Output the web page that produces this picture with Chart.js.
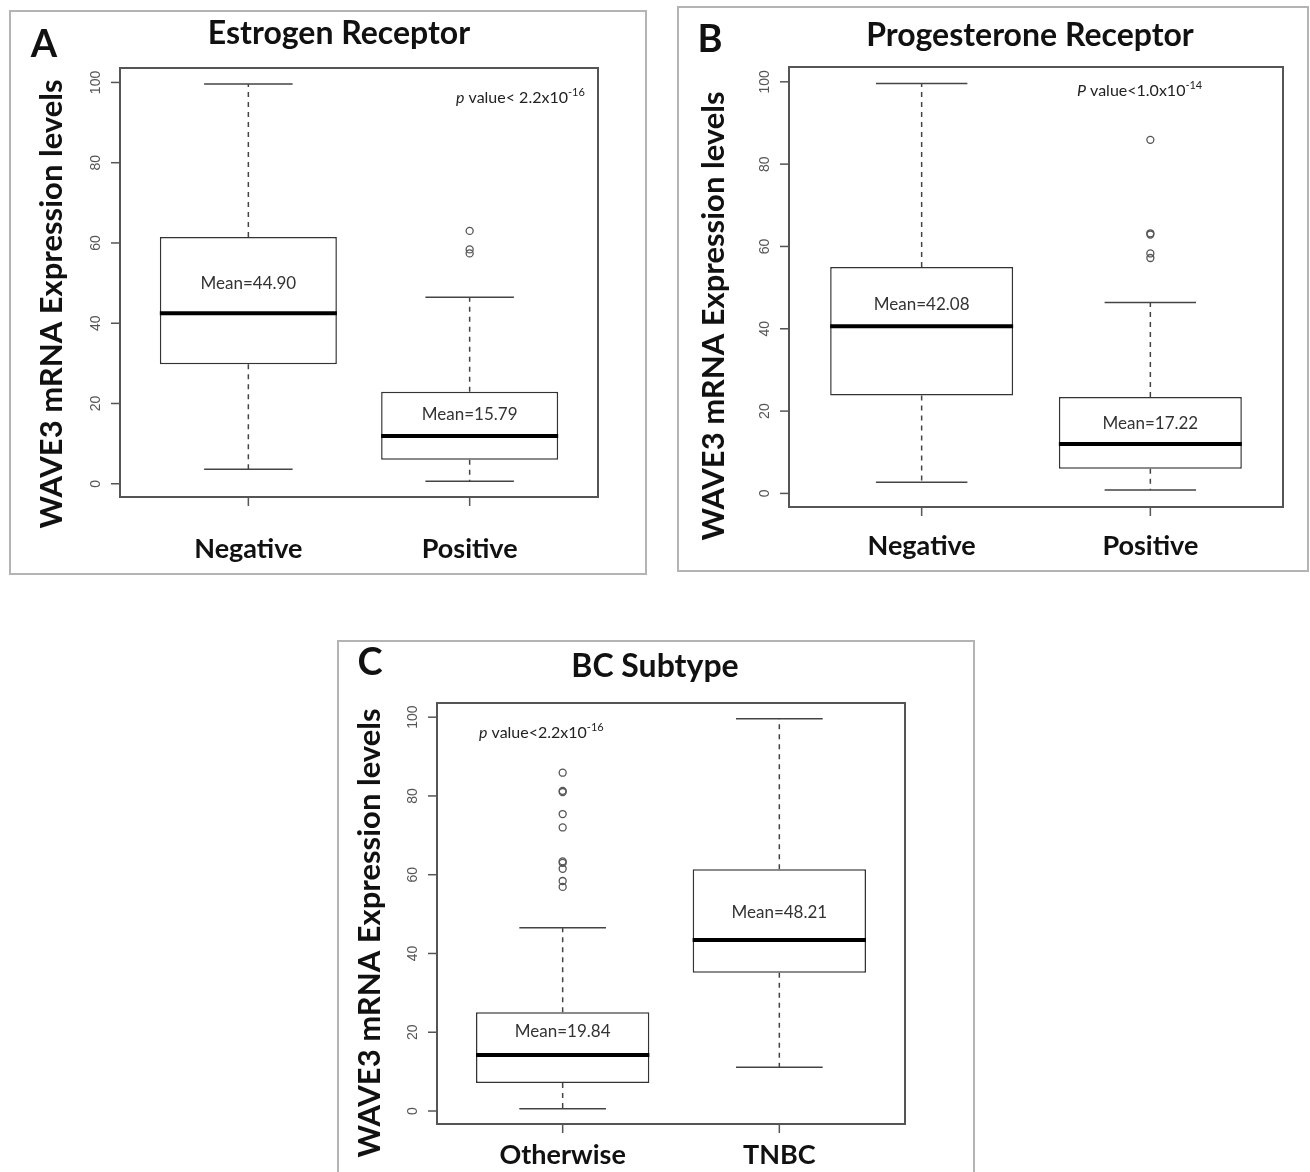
<!DOCTYPE html>
<html>
<head>
<meta charset="utf-8">
<script src="https://cdn.jsdelivr.net/npm/chart.js@4.4.1/dist/chart.umd.min.js"></script>
<style>
  body { margin: 0; background: #fff; width: 1310px; height: 1172px; overflow: hidden; position: relative; }
  .panel { position: absolute; box-sizing: border-box; border: 2px solid #b4b4b4; }
  canvas { position: absolute; }
</style>
</head>
<body>
<script>
// y axis ticks shared by all three panels
const yTicks = [0, 20, 40, 60, 80, 100];

// A - estrogen receptor
const erGroups = ['Negative', 'Positive'];
const erLow = [3.6, 0.6];
const erQ1 = [29.8, 6.0];
const erMedian = [42.5, 11.9];
const erQ3 = [61.5, 22.9];
const erHigh = [99.6, 46.5];
const erMeans = [44.90, 15.79];
const erOutliers = [[], [63.0, 58.4, 57.4]];

// B - progesterone receptor
const prGroups = ['Negative', 'Positive'];
const prLow = [2.7, 0.8];
const prQ1 = [23.8, 6.0];
const prMedian = [40.6, 12.0];
const prQ3 = [55.0, 23.4];
const prHigh = [99.6, 46.4];
const prMeans = [42.08, 17.22];
const prOutliers = [[], [85.9, 63.2, 62.9, 58.3, 57.2]];

// C - BC subtype
const bcGroups = ['Otherwise', 'TNBC'];
const bcLow = [0.6, 11.1];
const bcQ1 = [7.1, 35.1];
const bcMedian = [14.2, 43.4];
const bcQ3 = [25.1, 61.4];
const bcHigh = [46.5, 99.6];
const bcMeans = [19.84, 48.21];
const bcOutliers = [[85.9, 81.3, 81.0, 75.4, 72.0, 63.4, 63.0, 61.5, 58.4, 56.9], []];

const panels = [
  {
    letter: 'A', title: 'Estrogen Receptor',
    groups: erGroups, low: erLow, q1: erQ1, median: erMedian, q3: erQ3, high: erHigh,
    means: erMeans, outliers: erOutliers,
    pText: ['p', ' value< 2.2x10', '-16'],
    rect: [9, 10, 647, 575], frame: [120, 68, 598, 497],
    letterAt: [44, 45], titleAt: [339, 34], yLabelAt: [52, 304], xLabelY: 549,
    pAt: [456, 98], meanAt: [50.0, 17.3]
  },
  {
    letter: 'B', title: 'Progesterone Receptor',
    groups: prGroups, low: prLow, q1: prQ1, median: prMedian, q3: prQ3, high: prHigh,
    means: prMeans, outliers: prOutliers,
    pText: ['P', ' value<1.0x10', '-14'],
    rect: [677, 6, 1309, 572], frame: [789, 67, 1283, 507],
    letterAt: [710, 40], titleAt: [1030, 36], yLabelAt: [714, 316], xLabelY: 546,
    pAt: [1077, 91], meanAt: [45.8, 17.1]
  },
  {
    letter: 'C', title: 'BC Subtype',
    groups: bcGroups, low: bcLow, q1: bcQ1, median: bcMedian, q3: bcQ3, high: bcHigh,
    means: bcMeans, outliers: bcOutliers,
    pText: ['p', ' value<2.2x10', '-16'],
    rect: [337, 640, 975, 1190], frame: [437, 703, 905, 1124],
    letterAt: [370, 663], titleAt: [655, 667], yLabelAt: [370, 933], xLabelY: 1155,
    pAt: [479, 733], meanAt: [20.3, 50.3]
  }
];

const boldFont = 'Lato, "Open Sans", sans-serif';

const boxplotPlugin = {
  id: 'boxplot',
  afterDatasetsDraw(chart, args, p) {
    const ctx = chart.ctx;
    const xs = chart.scales.x, ys = chart.scales.y;
    const area = chart.chartArea;
    const ox = p.rect[0], oy = p.rect[1];
    ctx.save();

    p.groups.forEach((g, i) => {
      const cx = xs.getPixelForValue(i + 1);
      const capL = xs.getPixelForValue(i + 1 - 0.2);
      const capR = xs.getPixelForValue(i + 1 + 0.2);
      const boxL = xs.getPixelForValue(i + 1 - 0.4);
      const boxR = xs.getPixelForValue(i + 1 + 0.4);

      // whiskers
      ctx.strokeStyle = '#444';
      ctx.lineWidth = 1.5;
      ctx.setLineDash([5, 5]);
      ctx.beginPath();
      ctx.moveTo(cx, ys.getPixelForValue(p.q3[i]));
      ctx.lineTo(cx, ys.getPixelForValue(p.high[i]));
      ctx.moveTo(cx, ys.getPixelForValue(p.q1[i]));
      ctx.lineTo(cx, ys.getPixelForValue(p.low[i]));
      ctx.stroke();
      ctx.setLineDash([]);

      // staples
      ctx.beginPath();
      ctx.moveTo(capL, ys.getPixelForValue(p.high[i]));
      ctx.lineTo(capR, ys.getPixelForValue(p.high[i]));
      ctx.moveTo(capL, ys.getPixelForValue(p.low[i]));
      ctx.lineTo(capR, ys.getPixelForValue(p.low[i]));
      ctx.stroke();

      // median
      ctx.strokeStyle = '#000';
      ctx.lineWidth = 4;
      ctx.beginPath();
      ctx.moveTo(boxL, ys.getPixelForValue(p.median[i]));
      ctx.lineTo(boxR, ys.getPixelForValue(p.median[i]));
      ctx.stroke();

      // mean label
      ctx.fillStyle = '#333';
      ctx.font = '17px Lato, sans-serif';
      ctx.textAlign = 'center';
      ctx.textBaseline = 'middle';
      ctx.fillText('Mean=' + p.means[i].toFixed(2), cx, ys.getPixelForValue(p.meanAt[i]));

      // x tick + label
      ctx.strokeStyle = '#555';
      ctx.lineWidth = 1.5;
      ctx.beginPath();
      ctx.moveTo(cx, area.bottom);
      ctx.lineTo(cx, area.bottom + 9);
      ctx.stroke();
      ctx.fillStyle = '#111';
      ctx.font = 'bold 27px ' + boldFont;
      ctx.fillText(g, cx, p.xLabelY - oy);
    });

    // frame
    ctx.strokeStyle = '#555';
    ctx.lineWidth = 2;
    ctx.strokeRect(area.left, area.top, area.right - area.left, area.bottom - area.top);

    // y ticks, labels drawn along the axis like base R
    ctx.lineWidth = 1.5;
    ctx.font = '14px "Liberation Sans", Arial, sans-serif';
    ctx.fillStyle = '#555';
    yTicks.forEach(t => {
      const py = ys.getPixelForValue(t);
      ctx.beginPath();
      ctx.moveTo(area.left - 9, py);
      ctx.lineTo(area.left, py);
      ctx.stroke();
      ctx.save();
      ctx.translate(area.left - 24, py);
      ctx.rotate(-Math.PI / 2);
      ctx.textAlign = 'center';
      ctx.textBaseline = 'middle';
      ctx.fillText(String(t), 0, 0);
      ctx.restore();
    });

    // panel letter, title, y axis title
    ctx.fillStyle = '#111';
    ctx.textAlign = 'center';
    ctx.textBaseline = 'middle';
    ctx.font = 'bold 38px ' + boldFont;
    ctx.fillText(p.letter, p.letterAt[0] - ox, p.letterAt[1] - oy);
    ctx.font = 'bold 32px ' + boldFont;
    ctx.fillText(p.title, p.titleAt[0] - ox, p.titleAt[1] - oy);
    ctx.font = 'bold 31px ' + boldFont;
    ctx.save();
    ctx.translate(p.yLabelAt[0] - ox, p.yLabelAt[1] - oy);
    ctx.rotate(-Math.PI / 2);
    ctx.fillText('WAVE3 mRNA Expression levels', 0, 0);
    ctx.restore();

    // p value note
    let tx = p.pAt[0] - ox;
    const ty = p.pAt[1] - oy;
    ctx.textAlign = 'left';
    ctx.fillStyle = '#222';
    ctx.font = 'italic 16px Lato, sans-serif';
    ctx.fillText(p.pText[0], tx, ty);
    tx += ctx.measureText(p.pText[0]).width;
    ctx.font = '16px Lato, sans-serif';
    ctx.fillText(p.pText[1], tx, ty);
    tx += ctx.measureText(p.pText[1]).width;
    ctx.font = '11px Lato, sans-serif';
    ctx.fillText(p.pText[2], tx, ty - 6);

    ctx.restore();
  }
};

panels.forEach(p => {
  const [rx, ry, rx2, ry2] = p.rect;
  const [fx, fy, fx2, fy2] = p.frame;

  const border = document.createElement('div');
  border.className = 'panel';
  Object.assign(border.style, { left: rx + 'px', top: ry + 'px', width: (rx2 - rx) + 'px', height: (ry2 - ry) + 'px' });
  document.body.appendChild(border);

  const cv = document.createElement('canvas');
  cv.width = rx2 - rx;
  cv.height = ry2 - ry;
  cv.style.left = rx + 'px';
  cv.style.top = ry + 'px';
  document.body.appendChild(cv);

  const xs = p.groups.map((g, i) => i + 1);
  const outlierPts = [];
  p.outliers.forEach((list, i) => list.forEach(v => outlierPts.push({ x: i + 1, y: v })));

  new Chart(cv, {
    data: {
      datasets: [
        {
          type: 'bar',
          data: xs.map((x, i) => ({ x: x, y: [p.q1[i], p.q3[i]] })),
          backgroundColor: '#fff',
          borderColor: '#333',
          borderWidth: 1.5,
          borderSkipped: false,
          barPercentage: 0.8,
          categoryPercentage: 1
        },
        {
          type: 'scatter',
          data: outlierPts,
          pointStyle: 'circle',
          pointRadius: 3.5,
          pointBorderWidth: 1.3,
          pointBorderColor: '#555',
          pointBackgroundColor: 'rgba(255,255,255,0)'
        }
      ]
    },
    options: {
      responsive: false,
      animation: false,
      devicePixelRatio: 1,
      layout: { padding: { left: fx - rx, top: fy - ry, right: rx2 - fx2, bottom: ry2 - fy2 } },
      scales: {
        x: {
          type: 'linear', min: 0.42, max: 2.58, offset: false, display: false,
          grid: { offset: false },
          afterBuildTicks: s => { s.ticks = xs.map(v => ({ value: v })); }
        },
        y: { type: 'linear', min: -3.3, max: 103.6, display: false }
      },
      plugins: {
        legend: { display: false },
        tooltip: { enabled: false },
        boxplot: p
      }
    },
    plugins: [boxplotPlugin]
  });
});
</script>
</body>
</html>
